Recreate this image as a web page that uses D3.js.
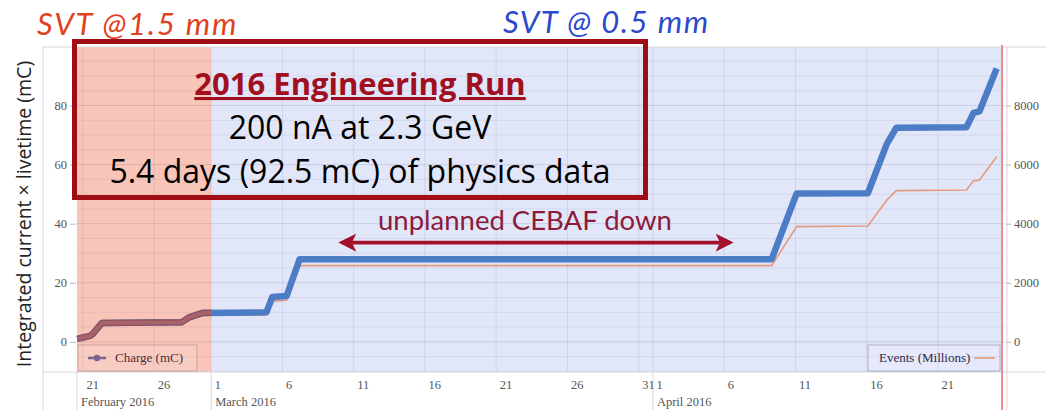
<!DOCTYPE html>
<html>
<head>
<meta charset="utf-8">
<script src="https://cdn.jsdelivr.net/npm/d3@7"></script>
<style>
body { margin: 0; background: #fff; }
svg { display: block; }
.tick text, .month, .legend text { font-family: 'Liberation Serif', 'DejaVu Serif', serif; }
</style>
</head>
<body>
<script>
// integrated charge (mC)
var chargeTimes = ["2016-02-20 14:00", "2016-02-21 12:00", "2016-02-21 17:00", "2016-02-22 08:00", "2016-02-27 22:00",
  "2016-02-28 12:00", "2016-02-29 10:00", "2016-03-04 21:00", "2016-03-05 07:00", "2016-03-06 07:00",
  "2016-03-07 05:00", "2016-04-09 08:00", "2016-04-11 02:00", "2016-04-16 02:00", "2016-04-17 10:00",
  "2016-04-18 02:00", "2016-04-23 00:00", "2016-04-23 12:00", "2016-04-23 22:00", "2016-04-25 03:00"];
var chargeValues = [1.0, 2.0, 2.8, 6.4, 6.6, 8.4, 9.8, 10.0, 15.2, 15.5, 28.0, 28.0, 50.2, 50.3, 67.0, 72.5, 72.6, 77.5, 78.0, 92.5];

// events, right axis
var eventTimes = chargeTimes;
var eventValues = [60, 150, 230, 580, 600, 760, 900, 910, 1380, 1410, 2580, 2580, 3900, 3920, 4800, 5120, 5140, 5450, 5480, 6270];

var leftTicks = [0, 20, 40, 60, 80];
var rightTicks = [0, 2000, 4000, 6000, 8000];
var monthLabels = ["February 2016", "March 2016", "April 2016"];
var monthStarts = ["2016-02-20 14:00", "2016-03-01 00:00", "2016-04-01 00:00"];
var pinkBand = ["2016-02-20 14:00", "2016-03-01 00:00"];
var blueBand = ["2016-03-01 00:00", "2016-04-25 12:00"];
var downtime = ["2016-03-09 08:00", "2016-04-07 06:00"];
var lastRun = "2016-04-25 12:00";

var W = 1046, H = 410;
var parse = d3.utcParse("%Y-%m-%d %H:%M");
var plotL = 77, plotR = 1005, plotT = 47, plotB = 372;

var x = d3.scaleUtc()
  .domain([parse("2016-02-20 14:00"), parse("2016-04-25 17:00")])
  .range([plotL, plotR]);
var y = d3.scaleLinear().domain([-10.2, 99.8]).range([plotB, plotT]);
var yR = d3.scaleLinear().domain([-1020, 9980]).range([plotB, plotT]);

var charge = chargeTimes.map(function (t, i) { return {t: parse(t), v: chargeValues[i]}; });
var events = eventTimes.map(function (t, i) { return {t: parse(t), v: eventValues[i]}; });

var svg = d3.select("body").append("svg").attr("width", W).attr("height", H);

// shaded run periods
svg.append("rect").attr("x", x(parse(pinkBand[0]))).attr("y", plotT)
  .attr("width", x(parse(pinkBand[1])) - x(parse(pinkBand[0]))).attr("height", plotB - plotT)
  .attr("fill", "#f9c5b9");
svg.append("rect").attr("x", x(parse(blueBand[0]))).attr("y", plotT)
  .attr("width", x(parse(blueBand[1])) - x(parse(blueBand[0]))).attr("height", plotB - plotT)
  .attr("fill", "#e2e6f9");

// grid
var grid = svg.append("g");
grid.selectAll("line.h").data(y.ticks(22)).enter().append("line")
  .attr("x1", plotL).attr("x2", plotR)
  .attr("y1", function (d) { return y(d); }).attr("y2", function (d) { return y(d); })
  .attr("stroke", function (d) { return d % 20 === 0 ? "rgba(60,60,110,0.15)" : "rgba(60,60,110,0.08)"; });
grid.selectAll("line.v").data(x.ticks(d3.utcDay.every(5))).enter().append("line")
  .attr("x1", function (d) { return x(d); }).attr("x2", function (d) { return x(d); })
  .attr("y1", plotT).attr("y2", plotB)
  .attr("stroke", "rgba(60,60,110,0.1)");

// frame
var frame = svg.append("g").attr("stroke", "#d8d8dc").attr("fill", "none");
frame.append("line").attr("x1", 43).attr("x2", W).attr("y1", plotT).attr("y2", plotT);
frame.append("line").attr("x1", 43).attr("x2", W).attr("y1", plotB).attr("y2", plotB);
frame.append("line").attr("x1", 43).attr("x2", 43).attr("y1", plotT).attr("y2", H);
frame.append("line").attr("x1", 1007).attr("x2", 1007).attr("y1", plotT).attr("y2", H);
frame.selectAll("line.m").data(monthStarts).enter().append("line")
  .attr("x1", function (d) { return x(parse(d)); }).attr("x2", function (d) { return x(parse(d)); })
  .attr("y1", plotB).attr("y2", H);

var line = d3.line().x(function (d) { return x(d.t); });

// events
svg.append("path").attr("d", line.y(function (d) { return yR(d.v); })(events))
  .attr("fill", "none").attr("stroke", "#e39a7d").attr("stroke-width", 1.6);

// charge
var chargePath = line.y(function (d) { return y(d.v); })(charge);
svg.append("path").attr("d", chargePath).attr("fill", "none")
  .attr("stroke", "#4d7cc6").attr("stroke-width", 6.5).attr("stroke-linejoin", "round");

svg.append("clipPath").attr("id", "pinkclip").append("rect")
  .attr("x", plotL).attr("y", plotT)
  .attr("width", x(parse(pinkBand[1])) - plotL).attr("height", plotB - plotT);
svg.append("path").attr("d", chargePath).attr("fill", "none").attr("clip-path", "url(#pinkclip)")
  .attr("stroke", "#8f5262").attr("stroke-width", 6.5).attr("stroke-linejoin", "round");
svg.append("path").attr("d", chargePath).attr("fill", "none").attr("clip-path", "url(#pinkclip)")
  .attr("stroke", "#a8646a").attr("stroke-width", 3.8).attr("stroke-linejoin", "round");

// legends
var lg1 = svg.append("g").attr("class", "legend");
lg1.append("rect").attr("x", 78).attr("y", 345).attr("width", 119).attr("height", 26)
  .attr("fill", "rgba(255,255,255,0.12)").attr("stroke", "rgba(150,110,110,0.45)");
lg1.append("line").attr("x1", 88).attr("x2", 106).attr("y1", 358).attr("y2", 358)
  .attr("stroke", "#7b6590").attr("stroke-width", 2.5);
lg1.append("circle").attr("cx", 97).attr("cy", 358).attr("r", 3.2).attr("fill", "#7b6590");
lg1.append("text").attr("x", 115).attr("y", 362).text("Charge (mC)")
  .attr("font-size", 13).attr("fill", "#4a3040");

var lg2 = svg.append("g").attr("class", "legend");
lg2.append("rect").attr("x", 868).attr("y", 345).attr("width", 132).attr("height", 26)
  .attr("fill", "rgba(255,255,255,0.12)").attr("stroke", "rgba(110,110,150,0.45)");
lg2.append("text").attr("x", 879).attr("y", 362).text("Events (Millions)")
  .attr("font-size", 13).attr("fill", "#2a2a50");
lg2.append("line").attr("x1", 974).attr("x2", 995).attr("y1", 358).attr("y2", 358)
  .attr("stroke", "#e39a7d").attr("stroke-width", 1.6);

// axes
var axL = svg.append("g").attr("transform", "translate(76,0)")
  .call(d3.axisLeft(y).tickValues(leftTicks).tickSize(6).tickPadding(3));
var axR = svg.append("g").attr("transform", "translate(1006,0)")
  .call(d3.axisRight(yR).tickValues(rightTicks).tickFormat(d3.format("d")).tickSize(5).tickPadding(3));
var axX = svg.append("g").attr("transform", "translate(0," + plotB + ")")
  .call(d3.axisBottom(x).ticks(d3.utcDay.every(5)).tickFormat(d3.utcFormat("%-d")).tickSize(0).tickPadding(8));
axX.selectAll("text").attr("text-anchor", "start").attr("dx", 3);
[axL, axR, axX].forEach(function (a) {
  a.attr("font-family", null).attr("font-size", 12.5);
  a.select(".domain").remove();
  a.selectAll("line").attr("stroke", "#b8b8c0");
  a.selectAll("text").attr("fill", "#555");
});

svg.selectAll("text.month").data(monthLabels).enter().append("text")
  .attr("class", "month")
  .attr("x", function (d, i) { return x(parse(monthStarts[i])) + 4; })
  .attr("y", 406).text(function (d) { return d; })
  .attr("font-size", 12.5).attr("fill", "#555");

// end-of-run marker
svg.append("line").attr("x1", x(parse(lastRun))).attr("x2", x(parse(lastRun)))
  .attr("y1", plotT - 2).attr("y2", H).attr("stroke", "#ec8c8c").attr("stroke-width", 2);

// y title
svg.append("text").attr("transform", "translate(31,214) rotate(-90)")
  .attr("text-anchor", "middle").text("Integrated current \u00d7 livetime (mC)")
  .attr("font-family", "'Open Sans', sans-serif").attr("font-size", 19.5).attr("fill", "#222");

// period labels
var humanist = "Lato, 'Open Sans', sans-serif";
svg.append("text").attr("x", 37).attr("y", 35).text("SVT @1.5 mm")
  .attr("font-family", humanist).attr("font-style", "italic").attr("font-size", 31)
  .attr("letter-spacing", 1.8).attr("fill", "#e0421e");
svg.append("text").attr("x", 503).attr("y", 33).text("SVT @ 0.5 mm")
  .attr("font-family", humanist).attr("font-style", "italic").attr("font-size", 31)
  .attr("letter-spacing", 1.5).attr("fill", "#2c48cc");

// downtime arrow
var defs = svg.append("defs");
["s", "e"].forEach(function (k) {
  defs.append("marker").attr("id", "arr" + k).attr("viewBox", "0 0 20 20")
    .attr("refX", 16).attr("refY", 10).attr("markerWidth", 5).attr("markerHeight", 5)
    .attr("markerUnits", "strokeWidth").attr("orient", k === "s" ? "auto-start-reverse" : "auto")
    .append("path").attr("d", "M0,0 L20,10 L0,20 L5,10 Z").attr("fill", "#a3102c");
});
var ay = y(33.6);
svg.append("line").attr("x1", x(parse(downtime[0])) + 12).attr("x2", x(parse(downtime[1])) - 12)
  .attr("y1", ay).attr("y2", ay).attr("stroke", "#a3102c").attr("stroke-width", 3.6)
  .attr("marker-start", "url(#arrs)").attr("marker-end", "url(#arre)");
svg.append("text").attr("x", (x(parse(downtime[0])) + x(parse(downtime[1]))) / 2 - 11).attr("y", 230)
  .attr("text-anchor", "middle").text("unplanned CEBAF down")
  .attr("font-family", humanist).attr("font-size", 27.5).attr("fill", "#8c1a3c");

// run summary box
svg.append("rect").attr("x", 74.5).attr("y", 41.5).attr("width", 571).attr("height", 156)
  .attr("fill", "none").attr("stroke", "#a00d14").attr("stroke-width", 5);
var box = svg.append("g").attr("font-family", "'Open Sans', sans-serif").attr("text-anchor", "middle");
box.append("text").attr("x", 360).attr("y", 95).text("2016 Engineering Run")
  .attr("font-weight", "bold").attr("font-size", 31).attr("fill", "#a0101f")
  .attr("text-decoration", "underline");
box.append("text").attr("x", 360).attr("y", 139).text("200 nA at 2.3 GeV")
  .attr("font-size", 32).attr("fill", "#000");
box.append("text").attr("x", 360).attr("y", 183).text("5.4 days (92.5 mC) of physics data")
  .attr("font-size", 32).attr("fill", "#000");
</script>
</body>
</html>
